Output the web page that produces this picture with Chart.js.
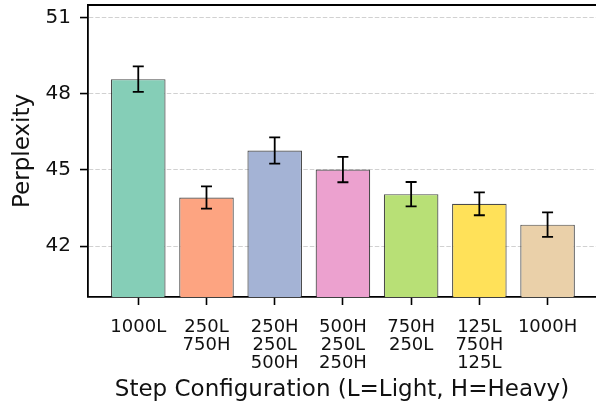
<!DOCTYPE html>
<html>
<head>
<meta charset="utf-8">
<script src="https://cdn.jsdelivr.net/npm/chart.js@4.4.0/dist/chart.umd.min.js"></script>
<style>
  html, body { margin: 0; padding: 0; background: #fff; }
  #wrap { width: 596px; height: 410px; }
</style>
</head>
<body>
<div id="wrap"><canvas id="chart" width="596" height="410"></canvas></div>
<script>
// step configurations (x tick labels, one entry per line)
const configs = [
  ['1000L'],
  ['250L', '750H'],
  ['250H', '250L', '500H'],
  ['500H', '250L', '250H'],
  ['750H', '250L'],
  ['125L', '750H', '125L'],
  ['1000H']
];
const perplexity = [48.58, 43.92, 45.77, 45.02, 44.05, 43.67, 42.85];
const errors = [0.50, 0.44, 0.52, 0.50, 0.48, 0.45, 0.48];
const barColors = ['#85ceb7', '#fda481', '#a4b3d5', '#eca1cf', '#b8e076', '#ffe159', '#ead0a9'];
const yTicks = [42, 45, 48, 51];

// error bars drawn on top of the bars using the chart scales
const errorBarPlugin = {
  id: 'errorBars',
  afterDatasetsDraw(chart) {
    const ctx = chart.ctx;
    const xs = chart.scales.x;
    const ys = chart.scales.y;
    ctx.save();
    ctx.strokeStyle = '#000';
    ctx.lineWidth = 1.8;
    perplexity.forEach((v, i) => {
      const x = xs.getPixelForValue(i);
      const top = ys.getPixelForValue(v + errors[i]);
      const bot = ys.getPixelForValue(v - errors[i]);
      ctx.beginPath();
      ctx.moveTo(x, top); ctx.lineTo(x, bot);
      ctx.moveTo(x - 5.5, top); ctx.lineTo(x + 5.5, top);
      ctx.moveTo(x - 5.5, bot); ctx.lineTo(x + 5.5, bot);
      ctx.stroke();
    });
    ctx.restore();
  },
  afterDraw(chart) {
    // top spine
    const a = chart.chartArea;
    const ctx = chart.ctx;
    ctx.save();
    ctx.strokeStyle = '#000';
    ctx.lineWidth = 1.8;
    ctx.beginPath();
    ctx.moveTo(a.left, a.top);
    ctx.lineTo(a.right, a.top);
    ctx.stroke();
    ctx.restore();
  }
};

function noEdgePadding(scale) {
  scale.paddingTop = 0;
  scale.paddingBottom = 0;
  scale.paddingLeft = 0;
  scale.paddingRight = 0;
}

const ctx = document.getElementById('chart').getContext('2d');
new Chart(ctx, {
  type: 'bar',
  data: {
    datasets: [{
      data: perplexity.map((v, i) => ({ x: i, y: v })),
      backgroundColor: barColors,
      borderColor: 'rgba(30,30,30,0.8)',
      borderWidth: 1.2,
      barPercentage: 1.0,
      categoryPercentage: 0.8
    }]
  },
  plugins: [errorBarPlugin],
  options: {
    responsive: false,
    animation: false,
    layout: { padding: { top: 5, right: 0, left: 0, bottom: 0 } },
    plugins: {
      legend: { display: false },
      tooltip: { enabled: false }
    },
    scales: {
      x: {
        type: 'linear',
        offset: false,
        min: -0.737,
        max: 6.71,
        afterBuildTicks(scale) {
          scale.ticks = configs.map((c, i) => ({ value: i }));
        },
        afterFit(scale) { scale.height = 113; noEdgePadding(scale); },
        grid: {
          offset: false,
          drawOnChartArea: false,
          drawTicks: true,
          tickLength: 8,
          tickColor: '#000',
          tickWidth: 1.6
        },
        border: { color: '#000', width: 1.8 },
        ticks: {
          autoSkip: false,
          maxRotation: 0,
          padding: 13,
          color: '#111',
          font: { family: 'DejaVu Sans', size: 18, lineHeight: 1.0 },
          callback: (v) => configs[v]
        },
        title: {
          display: true,
          text: 'Step Configuration (L=Light, H=Heavy)',
          color: '#111',
          font: { family: 'DejaVu Sans', size: 23 },
          padding: { top: 0, bottom: 6 }
        }
      },
      y: {
        min: 40,
        max: 51.5,
        afterBuildTicks(scale) {
          scale.ticks = yTicks.map(v => ({ value: v }));
        },
        afterFit(scale) { scale.width = 88; noEdgePadding(scale); },
        grid: {
          color: 'rgba(190,190,190,0.7)',
          lineWidth: 1.1,
          tickColor: '#000',
          tickWidth: 1.6,
          tickLength: 8,
          tickBorderDash: []
        },
        border: { color: '#000', width: 1.8, dash: [4.5, 2] },
        ticks: {
          padding: 9,
          color: '#111',
          font: { family: 'DejaVu Sans', size: 20 }
        },
        title: {
          display: true,
          text: 'Perplexity',
          color: '#111',
          font: { family: 'DejaVu Sans', size: 23 },
          padding: { top: 9, bottom: 0 }
        }
      }
    }
  }
});
</script>
</body>
</html>
